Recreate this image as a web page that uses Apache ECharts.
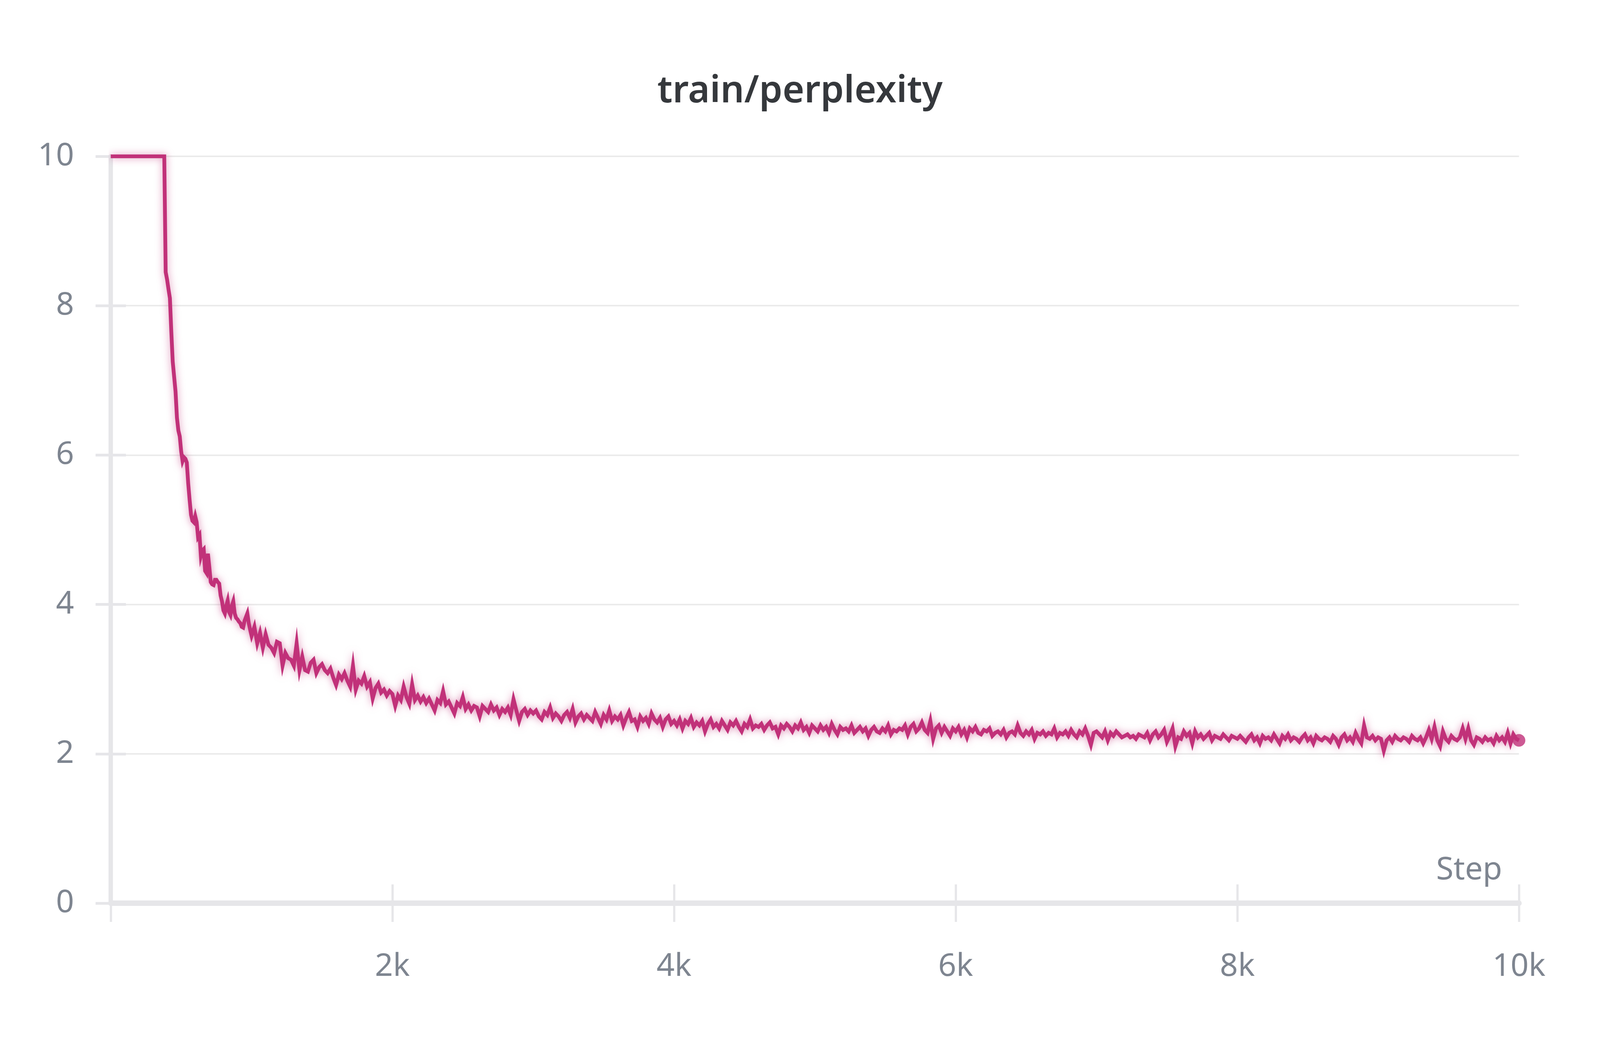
<!DOCTYPE html>
<html>
<head>
<meta charset="utf-8">
<script src="https://cdn.jsdelivr.net/npm/echarts@6/dist/echarts.min.js"></script>
<style>
  html, body { margin: 0; padding: 0; background: #ffffff; overflow: hidden; }
  #chart { width: 100vw; height: 100vh; }
</style>
</head>
<body>
<div id="chart"></div>
<script>
// ---- data ----
const chartTitle = 'train/perplexity';
const xAxisName = 'Step';
const xTicks = [0, 2000, 4000, 6000, 8000, 10000];
const yTicks = [0, 2, 4, 6, 8, 10];

// steps 0 .. 1000, every 10 steps
const earlyStart = 0;
const earlyEvery = 10;
const earlyValues = [
  10,10,10,10,10,10,10,10,10,10,
  10,10,10,10,10,10,10,10,10,10,
  10,10,10,10,10,10,10,10,10,10,
  10,10,10,10,10,10,10,10,10,
  8.45,8.35,8.22,8.10,7.65,7.25,7.05,6.85,6.50,6.33,
  6.25,6.05,5.92,5.97,5.95,5.90,5.62,5.40,5.20,5.12,
  5.10,5.18,5.10,4.90,4.93,4.65,4.72,4.74,4.45,4.42,
  4.68,4.50,4.30,4.27,4.26,4.33,4.33,4.30,4.28,4.12,
  4.04,3.92,3.88,3.98,4.05,3.90,3.86,3.98,4.04,3.88,
  3.82,3.80,3.77,3.75,3.70,3.69,3.78,3.83,3.88,3.75,
  3.66,3.58
];

// steps 1020 .. 10000, every 20 steps
const lateStart = 1020;
const lateEvery = 20;
const lateValues = [
  3.70,3.48,3.62,3.42,3.60,3.46,3.42,3.35,3.50,3.48,
  3.18,3.35,3.28,3.26,3.18,3.48,3.12,3.30,3.12,3.10,
  3.22,3.26,3.08,3.16,3.20,3.12,3.08,3.14,3.02,2.92,
  3.06,3.00,3.08,2.98,2.90,3.18,2.86,2.98,2.94,3.04,
  2.90,2.96,2.74,2.88,2.94,2.82,2.86,2.78,2.84,2.80,
  2.64,2.78,2.72,2.90,2.76,2.67,2.93,2.72,2.78,2.70,
  2.76,2.68,2.74,2.66,2.58,2.72,2.68,2.84,2.66,2.70,
  2.62,2.54,2.68,2.64,2.76,2.60,2.66,2.58,2.64,2.62,
  2.50,2.64,2.60,2.56,2.66,2.58,2.62,2.52,2.60,2.56,
  2.62,2.52,2.73,2.58,2.44,2.56,2.60,2.52,2.58,2.54,
  2.58,2.50,2.46,2.56,2.52,2.62,2.48,2.54,2.50,2.44,
  2.52,2.56,2.48,2.60,2.42,2.50,2.54,2.46,2.52,2.48,
  2.44,2.56,2.48,2.40,2.52,2.46,2.58,2.44,2.50,2.46,
  2.52,2.38,2.48,2.56,2.44,2.46,2.36,2.50,2.44,2.48,
  2.40,2.54,2.46,2.42,2.48,2.36,2.46,2.50,2.40,2.44,
  2.38,2.46,2.34,2.44,2.40,2.48,2.36,2.42,2.38,2.44,
  2.30,2.40,2.46,2.36,2.40,2.34,2.44,2.38,2.32,2.42,
  2.38,2.44,2.36,2.30,2.40,2.36,2.46,2.34,2.38,2.36,
  2.40,2.32,2.38,2.42,2.34,2.36,2.26,2.38,2.34,2.40,
  2.36,2.30,2.38,2.34,2.42,2.32,2.36,2.28,2.38,2.34,
  2.30,2.38,2.32,2.36,2.28,2.40,2.32,2.26,2.36,2.32,
  2.34,2.30,2.38,2.28,2.32,2.36,2.30,2.34,2.24,2.32,
  2.36,2.30,2.28,2.34,2.30,2.38,2.26,2.32,2.30,2.34,
  2.32,2.38,2.26,2.36,2.40,2.30,2.34,2.42,2.32,2.28,
  2.44,2.20,2.34,2.38,2.28,2.36,2.30,2.24,2.34,2.30,
  2.36,2.26,2.32,2.22,2.34,2.30,2.36,2.28,2.26,2.32,
  2.30,2.34,2.24,2.28,2.30,2.26,2.32,2.22,2.28,2.30,
  2.26,2.38,2.28,2.24,2.30,2.26,2.32,2.20,2.28,2.26,
  2.30,2.24,2.28,2.26,2.34,2.22,2.28,2.26,2.30,2.24,
  2.32,2.26,2.22,2.30,2.26,2.34,2.24,2.12,2.28,2.30,
  2.26,2.22,2.30,2.18,2.28,2.24,2.30,2.26,2.22,2.24,
  2.26,2.22,2.24,2.20,2.26,2.24,2.22,2.28,2.18,2.26,
  2.30,2.22,2.26,2.32,2.16,2.24,2.34,2.10,2.22,2.20,
  2.30,2.24,2.28,2.14,2.30,2.22,2.26,2.20,2.24,2.28,
  2.18,2.24,2.22,2.20,2.26,2.22,2.18,2.24,2.22,2.20,
  2.24,2.20,2.16,2.22,2.26,2.18,2.22,2.14,2.24,2.20,
  2.22,2.18,2.26,2.20,2.14,2.24,2.20,2.26,2.18,2.22,
  2.20,2.16,2.22,2.26,2.18,2.22,2.14,2.24,2.20,2.18,
  2.22,2.20,2.16,2.24,2.20,2.12,2.22,2.26,2.18,2.22,
  2.16,2.28,2.20,2.14,2.38,2.22,2.20,2.24,2.18,2.22,
  2.20,2.04,2.18,2.22,2.16,2.24,2.20,2.18,2.22,2.20,
  2.16,2.24,2.20,2.18,2.22,2.14,2.22,2.32,2.20,2.36,
  2.18,2.10,2.30,2.20,2.16,2.24,2.20,2.18,2.22,2.34,
  2.20,2.34,2.18,2.12,2.22,2.20,2.16,2.22,2.18,2.20,
  2.14,2.24,2.18,2.22,2.16,2.28,2.14,2.26,2.20,2.18
];

// ---- build series data ----
const seriesData = earlyValues.map((v, i) => [earlyStart + i * earlyEvery, v])
  .concat(lateValues.map((v, i) => [lateStart + i * lateEvery, v]));
const lastPoint = seriesData[seriesData.length - 1];

// layout designed for a 5056 x 2656 picture; scale to the real CSS viewport
const W = window.innerWidth || 5056;
const H = window.innerHeight || 2656;
const SX = W / 5056;
const SY = H / 2656;
const px = v => v * SX;   // horizontal sizes
const py = v => v * SY;   // vertical sizes
const fs = v => v * SX;   // font sizes

const lineColor = '#c13179';
const axisGray = '#e6e6e9';
const labelGray = '#7e8590';
const font = '"Noto Sans", "Open Sans", sans-serif';

const labelFont = fs(100);
const titleFont = fs(118);

const chart = echarts.init(document.getElementById('chart'), null, { renderer: 'canvas' });

const xCommon = {
  type: 'value', min: xTicks[0], max: xTicks[xTicks.length - 1], interval: xTicks[1] - xTicks[0],
  gridIndex: 0, position: 'bottom'
};
const yCommon = {
  type: 'value', min: yTicks[0], max: yTicks[yTicks.length - 1], interval: yTicks[1] - yTicks[0],
  gridIndex: 0, position: 'left'
};

chart.setOption({
  animation: false,
  backgroundColor: '#ffffff',
  title: {
    text: chartTitle,
    left: 'center',
    top: py(230) - titleFont / 2,
    textStyle: { fontFamily: font, fontSize: titleFont, fontWeight: 600, color: '#35383c' }
  },
  grid: { left: px(350), right: px(256), top: py(400), bottom: py(345), containLabel: false },
  xAxis: [
    Object.assign({}, xCommon, {
      name: xAxisName,
      nameLocation: 'end',
      nameGap: -px(53),
      nameTextStyle: {
        fontFamily: font, fontSize: labelFont, color: labelGray,
        align: 'right', verticalAlign: 'bottom', padding: [0, 0, py(84) - labelFont / 2, 0]
      },
      axisLine: { show: true, onZero: false, lineStyle: { color: axisGray, width: py(14) } },
      axisTick: { show: true, inside: false, length: py(48), lineStyle: { color: axisGray, width: px(7) } },
      axisLabel: {
        show: true, margin: py(163) - labelFont / 2, fontFamily: font, fontSize: labelFont, color: labelGray,
        formatter: v => (v === 0 ? '' : (v / 1000) + 'k')
      },
      splitLine: { show: false }
    }),
    Object.assign({}, xCommon, {
      axisLine: { show: false },
      axisTick: { show: true, inside: true, length: py(48), lineStyle: { color: axisGray, width: px(7) } },
      axisLabel: { show: false },
      splitLine: { show: false }
    })
  ],
  yAxis: [
    Object.assign({}, yCommon, {
      axisLine: { show: true, onZero: false, lineStyle: { color: axisGray, width: px(14) } },
      axisTick: { show: true, inside: false, length: px(48), lineStyle: { color: axisGray, width: py(7) } },
      axisLabel: { show: true, margin: px(116), fontFamily: font, fontSize: labelFont, color: labelGray },
      splitLine: { show: true, lineStyle: { color: '#ebebeb', width: py(4) } }
    }),
    Object.assign({}, yCommon, {
      axisLine: { show: false },
      axisTick: { show: true, inside: true, length: px(48), lineStyle: { color: axisGray, width: py(7) } },
      axisLabel: { show: false },
      splitLine: { show: false }
    })
  ],
  series: [
    {
      type: 'line',
      xAxisIndex: 0, yAxisIndex: 0,
      data: seriesData,
      showSymbol: false,
      symbol: 'none',
      clip: false,
      lineStyle: {
        color: lineColor, width: px(12), join: 'miter',
        shadowColor: 'rgba(193,49,121,0.55)', shadowBlur: px(24)
      },
      z: 5
    },
    {
      type: 'scatter',
      xAxisIndex: 0, yAxisIndex: 0,
      data: [lastPoint],
      symbol: 'circle',
      symbolSize: px(40),
      itemStyle: { color: lineColor },
      clip: false,
      z: 6
    }
  ]
});
</script>
</body>
</html>
